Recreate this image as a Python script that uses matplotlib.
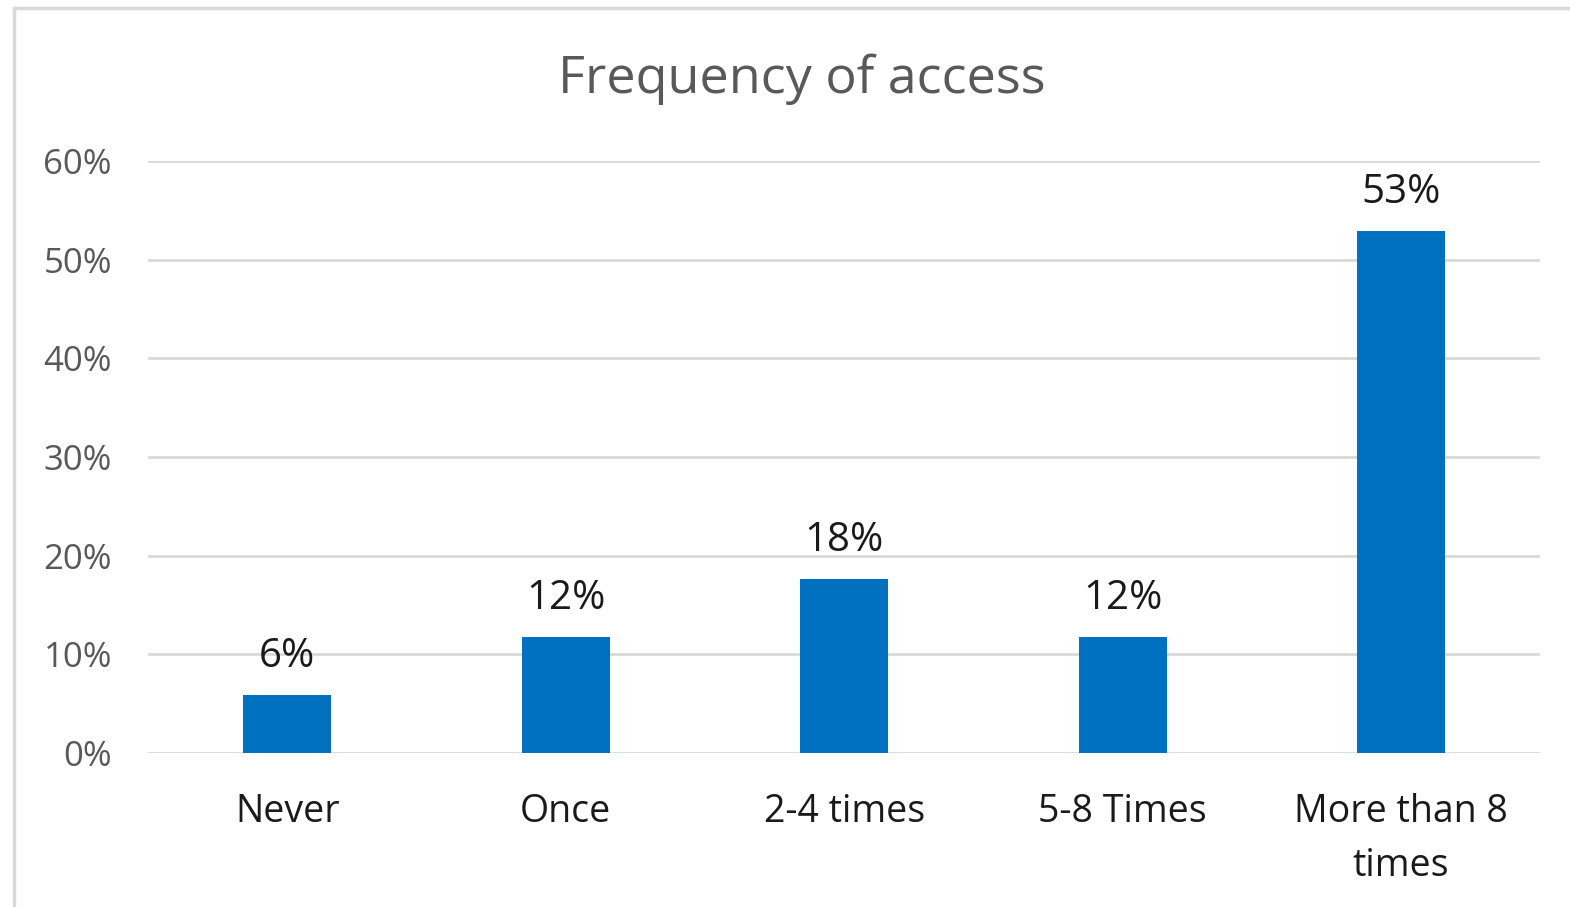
# Столбчатая диаграмма: как часто пользователи заходят в систему.
import matplotlib.pyplot as plt
from matplotlib.lines import Line2D

categories = ["Never", "Once", "2-4 times", "5-8 Times", "More than 8\ntimes"]
# доля ответов, %
shares = [5.88, 11.76, 17.65, 11.76, 52.94]
yticks = [0, 10, 20, 30, 40, 50, 60]

plt.rcParams["font.family"] = ["Open Sans", "DejaVu Sans"]

fig = plt.figure(figsize=(15.7, 9.07), dpi=100)
ax = fig.add_axes([0.0943, 0.1698, 0.8867, 0.6527])

x = list(range(len(categories)))
ax.bar(x, shares, width=0.316, color="#0070C0", zorder=3)

for xi, v in zip(x, shares):
    ax.annotate(f"{v:.0f}%", (xi, v), xytext=(0, 20), textcoords="offset points",
                ha="center", va="baseline", fontsize=29, color="#1a1a1a")

ax.set_xlim(-0.5, len(categories) - 0.5)
ax.set_ylim(0, 60)
ax.set_yticks(yticks)
ax.set_yticklabels([f"{t}%" for t in yticks])
ax.set_xticks(x)
ax.set_xticklabels(categories, fontsize=27, color="#1a1a1a", linespacing=1.55)

ax.grid(axis="y", color="#d9d9d9", linewidth=2, zorder=0)
ax.tick_params(axis="y", length=0, pad=26, labelsize=25, labelcolor="#595959")
ax.tick_params(axis="x", length=0, pad=29)
for s in ax.spines.values():
    s.set_visible(False)

fig.text(0.511, 1 - 93 / 907, "Frequency of access", ha="center", va="baseline",
         fontsize=37.5, color="#595959")

# рамка вокруг области диаграммы (видны верх и левый край)
fig.add_artist(Line2D([14 / 1570, 14 / 1570], [0, 1 - 8 / 907],
                      transform=fig.transFigure, color="#d9d9d9", linewidth=2.5))
fig.add_artist(Line2D([14 / 1570, 1], [1 - 8 / 907, 1 - 8 / 907],
                      transform=fig.transFigure, color="#d9d9d9", linewidth=2.5))

fig.savefig("out.png", dpi=100)
